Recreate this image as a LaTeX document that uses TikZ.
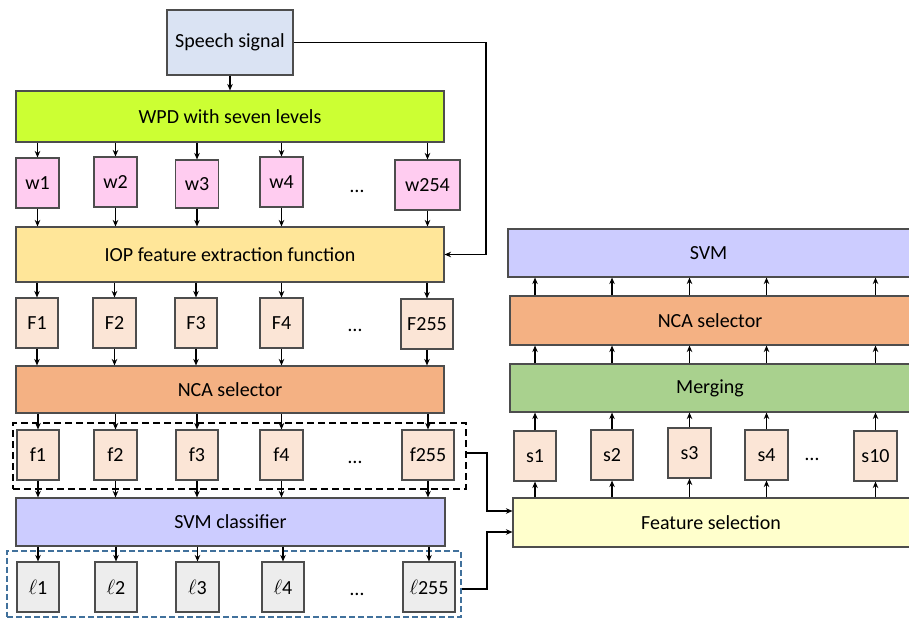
\documentclass[tikz,border=0pt]{standalone}
\usepackage{fontspec}
\setmainfont{Carlito}
\usetikzlibrary{arrows.meta}
\definecolor{cspeech}{HTML}{DAE3F3}
\definecolor{cwpd}{HTML}{CCFF33}
\definecolor{cw}{HTML}{FFCCF0}
\definecolor{ciop}{HTML}{FFE699}
\definecolor{cf}{HTML}{FBE5D6}
\definecolor{cnca}{HTML}{F4B183}
\definecolor{csvm}{HTML}{CCCCFF}
\definecolor{cl}{HTML}{EDEDED}
\definecolor{cmerge}{HTML}{A9D18E}
\definecolor{cfs}{HTML}{FFFFCC}
\definecolor{cborder}{HTML}{4D4D4D}
\definecolor{cblue}{HTML}{41719C}
\begin{document}
\begin{tikzpicture}[x=1pt,y=-1pt,
  box/.style={draw=cborder,line width=1.1pt,inner sep=0pt,font=\fontsize{20}{24}\selectfont},
  sbox/.style={box,minimum width=43pt,minimum height=50pt},
  arr/.style={-{Stealth[length=6.5pt,width=5.5pt]},line width=1.5pt,black},
  dots/.style={anchor=base,inner sep=0pt,font=\fontsize{20}{24}\selectfont}]
\useasboundingbox (0,0) rectangle (909,620);
% left column
\node[box,fill=cspeech,minimum width=126pt,minimum height=65pt] (sp) at (230,42.5) {Speech signal};
\node[box,fill=cwpd,minimum width=428pt,minimum height=51pt] (wpd) at (230,116.5) {WPD with seven levels};
\node[sbox,fill=cw] (w1) at (37.5,183) {w1};
\node[sbox,fill=cw] (w2) at (115.5,182) {w2};
\node[sbox,fill=cw,minimum height=48pt] (w3) at (197,184) {w3};
\node[sbox,fill=cw] (w4) at (281.5,182) {w4};
\node[sbox,fill=cw,minimum width=65pt] (w5) at (427.5,185) {w254};
\node[dots] (wd) at (357,193) {…};
\node[box,fill=ciop,minimum width=428pt,minimum height=55pt] (iop) at (230,254.5) {IOP feature extraction function};
\node[sbox,fill=cf,minimum width=42pt] (F1) at (37,323) {F1};
\node[sbox,fill=cf] (F2) at (114.5,323) {F2};
\node[sbox,fill=cf,minimum width=42pt] (F3) at (196,323) {F3};
\node[sbox,fill=cf] (F4) at (281.5,323) {F4};
\node[sbox,fill=cf,minimum width=52pt] (F5) at (427,324) {F255};
\node[dots] (Fd) at (355,331) {…};
\node[box,fill=cnca,minimum width=428pt,minimum height=47pt] (nca) at (230,389.5) {NCA selector};
\node[sbox,fill=cf,minimum width=42pt] (f1) at (38,455) {f1};
\node[sbox,fill=cf] (f2) at (115.5,455) {f2};
\node[sbox,fill=cf,minimum width=42pt] (f3) at (197,455) {f3};
\node[sbox,fill=cf] (f4) at (281.5,455) {f4};
\node[sbox,fill=cf,minimum width=52pt] (f5) at (428,455) {f255};
\node[dots] (fd) at (355,463) {…};
\node[draw,dash pattern=on 7pt off 4pt,line width=2.5pt,minimum width=453pt,minimum height=66pt,inner sep=0pt] (fbox) at (239.5,456) {};
\node[box,fill=csvm,minimum width=429pt,minimum height=48pt] (svmc) at (230.5,522) {SVM classifier};
\node[sbox,fill=cl,minimum width=42pt] (l1) at (38,587) {$\ell$1};
\node[sbox,fill=cl,minimum width=42pt] (l2) at (116,587) {$\ell$2};
\node[sbox,fill=cl] (l3) at (197.5,587) {$\ell$3};
\node[sbox,fill=cl,minimum width=42pt] (l4) at (283,587) {$\ell$4};
\node[sbox,fill=cl,minimum width=52pt] (l5) at (429,587) {$\ell$255};
\node[dots] (ld) at (357,595) {…};
\node[draw=cblue,dash pattern=on 6pt off 3pt,line width=2pt,minimum width=454pt,minimum height=66pt,inner sep=0pt] (lbox) at (234,583.5) {};
% right column
\node[box,fill=csvm,minimum width=407pt,minimum height=48pt] (svm) at (711.5,253) {\hspace*{-6pt}SVM};
\node[box,fill=cnca,minimum width=405pt,minimum height=49pt] (nca2) at (712.5,320.5) {\hspace*{-5pt}NCA selector};
\node[box,fill=cmerge,minimum width=405pt,minimum height=48pt] (merge) at (712.5,388) {\hspace*{-5pt}Merging};
\node[sbox,fill=cf,minimum width=42pt] (s1) at (535,456) {s1};
\node[sbox,fill=cf,minimum width=42pt] (s2) at (612,455) {s2};
\node[sbox,fill=cf] (s3) at (689.5,453) {s3};
\node[sbox,fill=cf] (s4) at (766.5,455) {s4};
\node[sbox,fill=cf] (s5) at (875.5,456) {s10};
\node[dots] (sd) at (812,460) {…};
\node[box,fill=cfs,minimum width=402pt,minimum height=49pt] (fs) at (714,522.5) {\hspace*{-6pt}Feature selection};
% arrows
\draw[arr] (sp.south) -- (wpd.north -| sp.south);
\foreach \n in {1,...,5}{
  \draw[arr] (wpd.south -| w\n) -- (w\n.north);
  \draw[arr] (w\n.south) -- (iop.north -| w\n);
  \draw[arr] (iop.south -| F\n) -- (F\n.north);
  \draw[arr] (F\n.south) -- (nca.north -| F\n);
  \draw[arr] (nca.south -| f\n) -- (f\n.north);
  \draw[arr] (f\n.south) -- (svmc.north -| f\n);
  \draw[arr] (svmc.south -| l\n) -- (l\n.north);
  \draw[arr] (fs.north -| s\n) -- (s\n.south);
  \draw[arr] (s\n.north) -- (merge.south -| s\n);
  \draw[arr] (merge.north -| s\n) -- (nca2.south -| s\n);
  \draw[arr] (nca2.north -| s\n) -- (svm.south -| s\n);
}
\coordinate (cx) at (486,0);
\coordinate (cy) at (487,0);
\coordinate (fsin1) at ([yshift=11.5pt]fs.west);
\coordinate (fsin2) at ([yshift=-9.5pt]fs.west);
\coordinate (fout) at ([yshift=3pt]fbox.east);
\coordinate (lout) at ([yshift=-5.5pt]lbox.east);
\draw[arr] (sp.east) -| (cx |- iop.east) -- (iop.east);
\draw[arr] (fout) -| (cy |- fsin1) -- (fsin1);
\draw[arr] (lout) -| (cy |- fsin2) -- (fsin2);
\end{tikzpicture}
\end{document}
